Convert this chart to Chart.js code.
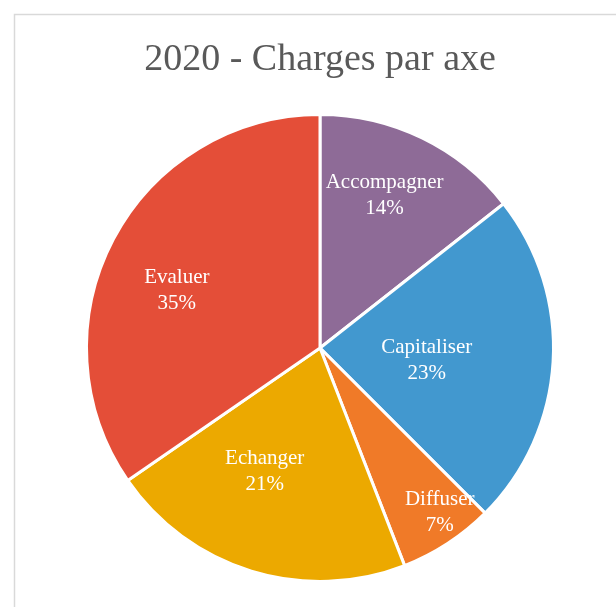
<!DOCTYPE html>
<html>
<head>
<meta charset="utf-8">
<script src="https://cdn.jsdelivr.net/npm/chart.js@4/dist/chart.umd.min.js"></script>
<style>
  html, body { margin: 0; padding: 0; background: #fff; overflow: hidden; }
  #wrap { width: 616px; height: 607px; }
</style>
</head>
<body>
<div id="wrap"><canvas id="chart" width="616" height="607"></canvas></div>
<script>
// données (parts des charges, en %)
const axes = ["Accompagner", "Capitaliser", "Diffuser", "Echanger", "Evaluer"];
const charges = [14.4, 23.1, 6.6, 21.3, 34.6];
const couleurs = ["#8E6B97", "#4298CF", "#F07A28", "#ECA900", "#E44E38"];

// placement des étiquettes (fraction du rayon, décalage angulaire en degrés)
const labelPlace = [
  { r: 0.71, da: -3 },
  { r: 0.46, da: 3 },
  { r: 0.87, da: -3 },
  { r: 0.58, da: 7 },
  { r: 0.66, da: -6 }
];

const SERIF = '"Liberation Serif", "DejaVu Serif", serif';

// cadre gris clair autour du graphique
const cadre = {
  id: "cadre",
  beforeDraw(chart) {
    const ctx = chart.ctx;
    ctx.save();
    ctx.strokeStyle = "#d9d9d9";
    ctx.lineWidth = 1.5;
    ctx.strokeRect(14.5, 14.5, 800, 800);
    ctx.restore();
  }
};

// étiquettes : nom + pourcentage
const etiquettes = {
  id: "etiquettes",
  afterDatasetsDraw(chart) {
    const ctx = chart.ctx;
    const meta = chart.getDatasetMeta(0);
    const total = charges.reduce((a, b) => a + b, 0);
    ctx.save();
    ctx.fillStyle = "#ffffff";
    ctx.font = "21px " + SERIF;
    ctx.textAlign = "center";
    ctx.textBaseline = "middle";
    meta.data.forEach((arc, i) => {
      const p = arc.getProps(["x", "y", "startAngle", "endAngle", "outerRadius"], true);
      const mid = (p.startAngle + p.endAngle) / 2 + labelPlace[i].da * Math.PI / 180;
      const rr = p.outerRadius * labelPlace[i].r;
      const x = p.x + Math.cos(mid) * rr;
      const y = p.y + Math.sin(mid) * rr;
      const pct = Math.round(charges[i] / total * 100) + "%";
      ctx.fillText(axes[i], x, y - 13);
      ctx.fillText(pct, x, y + 13);
    });
    ctx.restore();
  }
};

new Chart(document.getElementById("chart").getContext("2d"), {
  type: "pie",
  data: {
    labels: axes,
    datasets: [{
      data: charges,
      backgroundColor: couleurs,
      borderColor: "#ffffff",
      borderWidth: 3
    }]
  },
  options: {
    responsive: false,
    animation: false,
    layout: { padding: { top: 0, bottom: 24, left: 85, right: 61 } },
    plugins: {
      legend: { display: false },
      tooltip: { enabled: false },
      title: {
        display: true,
        text: "2020 - Charges par axe",
        color: "#595959",
        font: { family: SERIF, size: 38, weight: "normal" },
        padding: { top: 37, bottom: 30.4 }
      }
    }
  },
  plugins: [cadre, etiquettes]
});
</script>
</body>
</html>
